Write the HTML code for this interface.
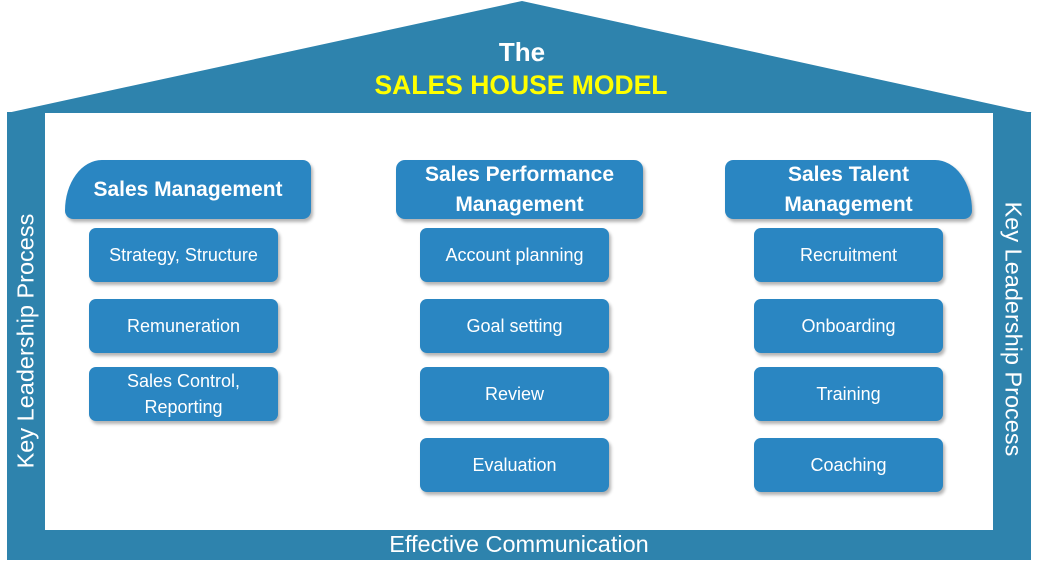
<!DOCTYPE html>
<html><head><meta charset="utf-8"><style>
body{margin:0;width:1040px;height:573px;background:#fff;position:relative;overflow:hidden;font-family:"Liberation Sans",sans-serif}
.a{position:absolute}
.frame{background:#2e83ad}
.hd{position:absolute;background:#2a86c2;color:#fff;font-weight:bold;font-size:21px;display:flex;align-items:center;justify-content:center;text-align:center;line-height:30px;border-radius:9px;box-shadow:2px 3px 3px rgba(0,0,0,.3)}
.bx{position:absolute;background:#2a86c2;color:#fff;font-size:18px;display:flex;align-items:center;justify-content:center;text-align:center;line-height:26px;border-radius:7px;box-shadow:2px 3px 3px rgba(0,0,0,.3);width:189px;height:54px}
.vt{position:absolute;color:#fff;font-size:23.5px;white-space:nowrap}
</style></head><body>
<svg class="a" style="left:0;top:0" width="1040" height="573">
<polygon points="7,113 522,1 1032,113" fill="#2e83ad"/>
</svg>
<div class="a frame" style="left:7px;top:112px;width:38px;height:448px"></div>
<div class="a frame" style="left:993px;top:112px;width:38px;height:448px"></div>
<div class="a frame" style="left:7px;top:530px;width:1024px;height:30px"></div>
<div class="a" style="left:45px;top:114px;width:948px;height:416px;background:#fff"></div>
<div class="a" style="left:0;width:1044px;top:37px;text-align:center;color:#fff;font-weight:bold;font-size:26px">The</div>
<div class="a" style="left:0;width:1042px;top:70px;text-align:center;color:#ffff00;font-weight:bold;font-size:26.5px">SALES HOUSE MODEL</div>
<div class="vt" style="left:26px;top:341px;transform:translate(-50%,-50%) rotate(-90deg)">Key Leadership Process</div>
<div class="vt" style="left:1013px;top:329px;transform:translate(-50%,-50%) rotate(90deg)">Key Leadership Process</div>
<div class="a" style="left:0;width:1038px;top:531px;text-align:center;color:#fff;font-size:23.5px">Effective Communication</div>

<div class="hd" style="left:65px;top:160px;width:246px;height:59px;border-top-left-radius:40px 55px">Sales Management</div>
<div class="hd" style="left:396px;top:160px;width:247px;height:59px">Sales Performance<br>Management</div>
<div class="hd" style="left:725px;top:160px;width:247px;height:59px;border-top-right-radius:40px 55px">Sales Talent<br>Management</div>

<div class="bx" style="left:89px;top:228px">Strategy, Structure</div>
<div class="bx" style="left:89px;top:299px">Remuneration</div>
<div class="bx" style="left:89px;top:367px">Sales Control,<br>Reporting</div>

<div class="bx" style="left:420px;top:228px">Account planning</div>
<div class="bx" style="left:420px;top:299px">Goal setting</div>
<div class="bx" style="left:420px;top:367px">Review</div>
<div class="bx" style="left:420px;top:438px">Evaluation</div>

<div class="bx" style="left:754px;top:228px">Recruitment</div>
<div class="bx" style="left:754px;top:299px">Onboarding</div>
<div class="bx" style="left:754px;top:367px">Training</div>
<div class="bx" style="left:754px;top:438px">Coaching</div>
</body></html>
